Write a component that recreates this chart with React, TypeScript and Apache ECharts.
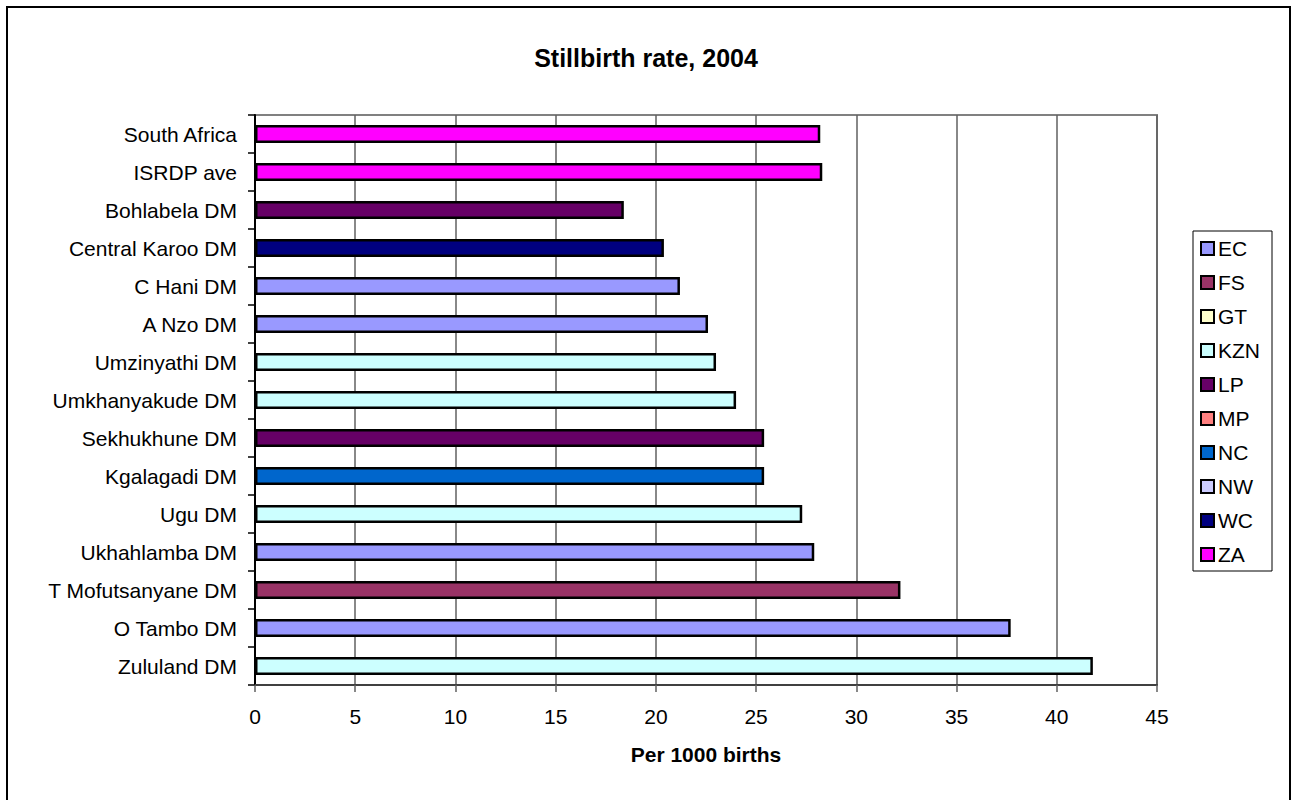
import React, { useEffect, useRef } from "react";
import * as echarts from "echarts";

// Districts, listed bottom to top as they appear on the category axis
const districts = [
  "Zululand DM",
  "O Tambo DM",
  "T Mofutsanyane DM",
  "Ukhahlamba DM",
  "Ugu DM",
  "Kgalagadi DM",
  "Sekhukhune DM",
  "Umkhanyakude DM",
  "Umzinyathi DM",
  "A Nzo DM",
  "C Hani DM",
  "Central Karoo DM",
  "Bohlabela DM",
  "ISRDP ave",
  "South Africa",
];

// Stillbirths per 1000 births, 2004
const stillbirthRates = [41.8, 37.7, 32.2, 27.9, 27.3, 25.4, 25.4, 24.0, 23.0, 22.6, 21.2, 20.4, 18.4, 28.3, 28.2];

// Province each district belongs to
const districtProvince = ["KZN", "EC", "FS", "EC", "KZN", "NC", "LP", "KZN", "KZN", "EC", "EC", "WC", "LP", "ZA", "ZA"];

const provinces = ["EC", "FS", "GT", "KZN", "LP", "MP", "NC", "NW", "WC", "ZA"];
const provinceColors = ["#9999FF", "#993366", "#FFFFCC", "#CCFFFF", "#660066", "#FF8080", "#0066CC", "#CCCCFF", "#000080", "#FF00FF"];

const xTicks = { min: 0, max: 45, interval: 5 };

const FONT = "'Liberation Sans', Arial, sans-serif";

export default function App() {
  const ref = useRef<HTMLDivElement>(null);

  useEffect(() => {
    if (!ref.current) return;
    const chart = echarts.init(ref.current, null, { renderer: "svg" });

    // One series per province; every district bar sits in the same slot
    const series = provinces.map((p, k) => ({
      name: p,
      type: "bar",
      barWidth: 18,
      barGap: "-100%",
      itemStyle: {
        color: provinceColors[k],
        borderColor: "#000",
        borderWidth: 2.5,
      },
      data: districts.map((_, i) => (districtProvince[i] === p ? stillbirthRates[i] : "-")),
    }));

    chart.setOption({
      animation: false,
      backgroundColor: "#fff",
      textStyle: { fontFamily: FONT, color: "#000" },
      title: {
        text: "Stillbirth rate, 2004",
        left: "center",
        top: 40,
        textStyle: { fontFamily: FONT, fontSize: 25, fontWeight: "bold", color: "#000" },
      },
      graphic: [
        {
          type: "rect",
          shape: { x: 7, y: 7, width: 1283, height: 900 },
          style: { fill: "none", stroke: "#000", lineWidth: 2 },
          silent: true,
        },
      ],
      legend: {
        orient: "vertical",
        left: 1193,
        top: 231,
        data: provinces,
        icon: "rect",
        itemWidth: 13,
        itemHeight: 13,
        itemGap: 13,
        padding: [7, 12, 6, 7],
        borderColor: "#000",
        borderWidth: 1,
        itemStyle: { borderColor: "#000", borderWidth: 2 },
        textStyle: { fontFamily: FONT, fontSize: 21, color: "#000", padding: [0, 0, 0, -1] },
      },
      grid: {
        left: 255,
        top: 115,
        right: 135,
        bottom: 115,
        show: true,
        borderColor: "#808080",
        borderWidth: 2,
        outerBoundsMode: "none",
      },
      xAxis: {
        type: "value",
        min: xTicks.min,
        max: xTicks.max,
        interval: xTicks.interval,
        name: "Per 1000 births",
        nameLocation: "middle",
        nameGap: 59,
        nameTextStyle: { fontFamily: FONT, fontSize: 21, fontWeight: "bold", color: "#000" },
        axisLine: { show: true, lineStyle: { color: "#404040", width: 2 } },
        axisTick: { show: true, length: 7, lineStyle: { color: "#606060", width: 1.5 } },
        axisLabel: { fontFamily: FONT, fontSize: 21, color: "#000", margin: 21 },
        splitLine: { show: true, lineStyle: { color: "#606060", width: 1.5 } },
      },
      yAxis: {
        type: "category",
        data: districts,
        axisLine: { show: true, lineStyle: { color: "#000", width: 2 } },
        axisTick: { show: true, length: 7, alignWithLabel: false, lineStyle: { color: "#000", width: 1.5 } },
        axisLabel: { fontFamily: FONT, fontSize: 21, color: "#000", margin: 18 },
        splitLine: { show: false },
      },
      series,
    });

    return () => chart.dispose();
  }, []);

  return (
    <div
      ref={ref}
      style={{ position: "absolute", left: 0, top: 0, width: 1292, height: 800 }}
    />
  );
}
